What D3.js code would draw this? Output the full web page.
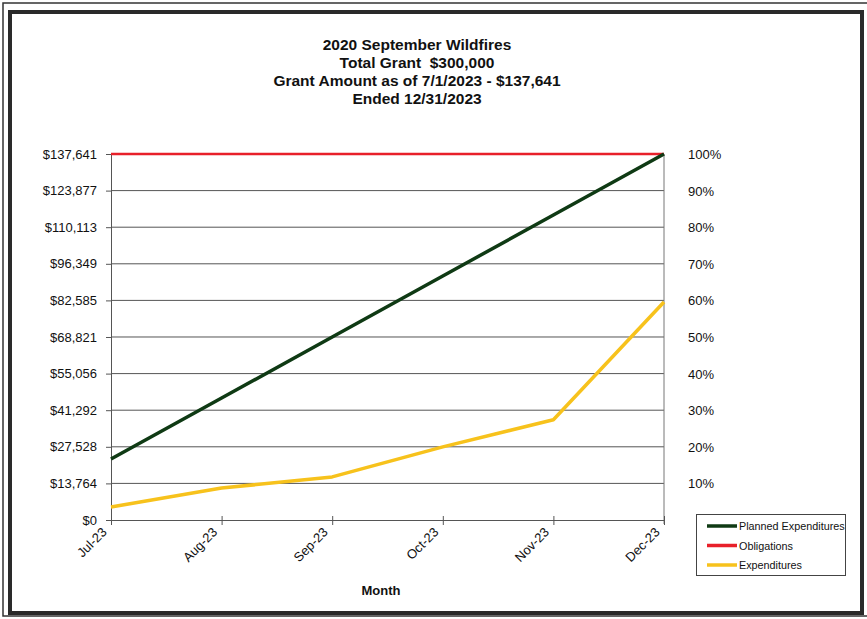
<!DOCTYPE html>
<html><head><meta charset="utf-8">
<script src="https://cdn.jsdelivr.net/npm/d3@7"></script>
<style>body{margin:0;background:#fff}svg{display:block}</style>
</head><body>
<script>
const months = ["Jul-23","Aug-23","Sep-23","Oct-23","Nov-23","Dec-23"];
const planned = [22940, 45880, 68821, 91761, 114701, 137641];
const obligations = [137641, 137641, 137641, 137641, 137641, 137641];
const expenditures = [4900, 12000, 16200, 27500, 37700, 82000];
const leftTicks = [0,13764,27528,41292,55056,68821,82585,96349,110113,123877,137641];
const rightTicks = ["10%","20%","30%","40%","50%","60%","70%","80%","90%","100%"];
const titleLines = ["2020 September Wildfires","Total Grant  $300,000","Grant Amount as of 7/1/2023 - $137,641","Ended 12/31/2023"];
const seriesNames = ["Planned Expenditures","Obligations","Expenditures"];
const colors = ["#0f3a14","#e8202a","#f7c21c"];

const W=867,H=619;
const svg=d3.select("body").append("svg").attr("width",W).attr("height",H)
  .style("font-family","'Liberation Sans', Arial, sans-serif");
svg.append("rect").attr("width",W).attr("height",H).attr("fill","#fff");
// frame
svg.append("rect").attr("x",3).attr("y",3).attr("width",W+10).attr("height",613)
  .attr("fill","none").attr("stroke","#333").attr("stroke-width",1.5);
svg.append("rect").attr("x",10).attr("y",12).attr("width",852).attr("height",601)
  .attr("fill","none").attr("stroke","#2a2a2a").attr("stroke-width",4);

// title
svg.append("g").selectAll("text").data(titleLines).join("text")
  .attr("x",417).attr("y",(d,i)=>50+i*18).attr("text-anchor","middle")
  .style("white-space","pre")
  .attr("font-size",15.5).attr("font-weight","bold").attr("fill","#111").text(d=>d);

const x=d3.scalePoint().domain(months).range([111,664]);
const y=d3.scaleLinear().domain([0,137641]).range([520,154]);

// gridlines
svg.append("g").selectAll("line").data(leftTicks.slice(1)).join("line")
  .attr("x1",111).attr("x2",664).attr("y1",d=>y(d)).attr("y2",d=>y(d))
  .attr("stroke","#555").attr("stroke-width",1);
// right border of plot
svg.append("line").attr("x1",664).attr("x2",664).attr("y1",154).attr("y2",524)
  .attr("stroke","#777").attr("stroke-width",1);

// left axis
const yAxis=d3.axisLeft(y).tickValues(leftTicks).tickSize(5).tickPadding(9)
  .tickFormat(d=>"$"+d3.format(",")(d));
const gy=svg.append("g").attr("transform","translate(111,0)").call(yAxis);
gy.select(".domain").attr("stroke","#555");
gy.selectAll(".tick line").attr("stroke","#555");
gy.selectAll("text").attr("font-size",13).attr("fill","#111").attr("font-family","'Liberation Sans', Arial, sans-serif");

// bottom axis
const xAxis=d3.axisBottom(x).tickSizeInner(5).tickSizeOuter(0);
const gx=svg.append("g").attr("transform","translate(0,520)").call(xAxis);
gx.select(".domain").attr("stroke","#555");
gx.selectAll(".tick line").attr("stroke","#555").attr("y1",-4);
gx.selectAll("text").attr("font-size",13).attr("fill","#111")
  .attr("font-family","'Liberation Sans', Arial, sans-serif")
  .attr("text-anchor","end").attr("dy",null).attr("y",0)
  .attr("transform","translate(-4,13) rotate(-45)");

// right labels
const pct=d3.scaleLinear().domain([0,100]).range([520,154]);
svg.append("g").selectAll("text").data(rightTicks).join("text")
  .attr("x",688).attr("y",d=>pct(parseFloat(d))+5).attr("font-size",13).attr("fill","#111").text(d=>d);

// axis title
svg.append("text").attr("x",381).attr("y",595).attr("text-anchor","middle")
  .attr("font-size",13).attr("font-weight","bold").attr("fill","#111").text("Month");

// lines
const series=[planned,obligations,expenditures];
const line=d3.line().x((d,i)=>x(months[i])).y(d=>y(d));
const order=[1,0,2];
order.forEach(k=>{
  svg.append("path").datum(series[k]).attr("d",line).attr("fill","none")
    .attr("stroke",colors[k]).attr("stroke-width",k===1?2.5:3.5).attr("stroke-linejoin","round");
});

// legend
const lg=svg.append("g");
lg.append("rect").attr("x",696.5).attr("y",514.5).attr("width",149).attr("height",61)
  .attr("fill","#fff").attr("stroke","#444").attr("stroke-width",1);
seriesNames.forEach((n,i)=>{
  const yy=526+i*19.5;
  lg.append("line").attr("x1",707).attr("x2",737).attr("y1",yy).attr("y2",yy)
    .attr("stroke",colors[i]).attr("stroke-width",3.5);
  lg.append("text").attr("x",739).attr("y",yy+4).attr("font-size",10.8).attr("fill","#111").text(n);
});
</script>
</body></html>
